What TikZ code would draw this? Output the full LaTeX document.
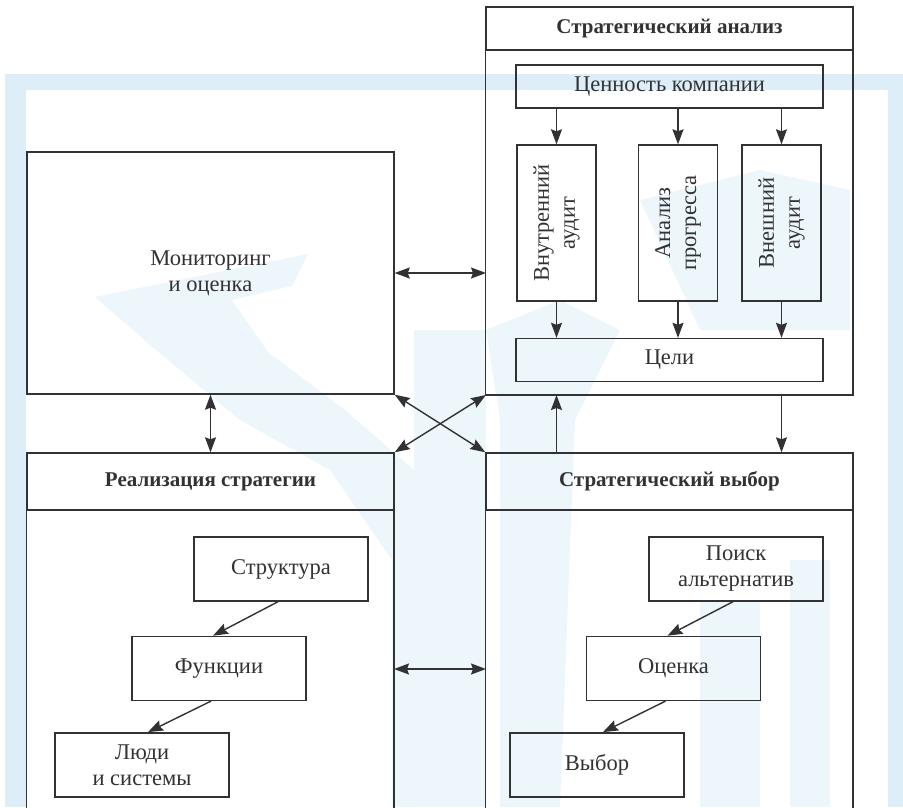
\documentclass[tikz,border=0pt]{standalone}
\usepackage{fontspec}
\setmainfont{Liberation Serif}
\usetikzlibrary{arrows.meta,positioning}

\definecolor{ink}{RGB}{50,50,52}
\definecolor{wmblue}{RGB}{221,238,248}

\tikzset{
  box/.style={draw=ink, line width=1.4pt, text=ink, align=center, inner sep=0pt,
    font=\fontsize{22.5}{26}\selectfont},
  ibox/.style={box, minimum width=174pt, minimum height=64pt},
  vbox/.style={box, rotate=90, minimum width=156pt, minimum height=79pt},
  hbox/.style={box, minimum width=307pt, minimum height=43pt},
  headbox/.style={box, minimum width=367pt, font=\bfseries\fontsize{21}{25}\selectfont},
  frame/.style={draw=ink, line width=1.4pt},
  arr/.style={draw=ink, line width=1.4pt, -{Stealth[length=15pt,width=11pt,inset=2pt]}},
  darr/.style={arr, {Stealth[length=15pt,width=11pt,inset=2pt]}-{Stealth[length=15pt,width=11pt,inset=2pt]}},
}

\begin{document}
\begin{tikzpicture}[x=1pt,y=-1pt]

\useasboundingbox (0,0) rectangle (903,807);
\clip (0,0) rectangle (903,807);

% watermark
\fill[wmblue] (5,74) rectangle (903,807);
\fill[white] (26,90) rectangle (888,807);
\begin{scope}[fill=wmblue, opacity=0.5]
  \fill (95,297) -- (308,254) -- (292,286) -- (232,300) -- (268,352) -- (345,410)
        -- (414,470) -- (414,807) -- (392,807) -- (392,560) -- (330,470)
        -- (240,420) -- (150,345) -- cycle;
  \fill (414,330) rectangle (486,807);
  \fill (486,330) -- (560,300) -- (620,330) -- (575,420) -- (560,807) -- (500,807)
        -- (500,420) -- cycle;
  \fill (700,600) rectangle (760,807);
  \fill (790,560) rectangle (830,807);
  \fill (640,200) -- (760,170) -- (850,190) -- (850,330) -- (700,330) -- cycle;
\end{scope}

% monitoring
\node[box, minimum width=367pt, minimum height=242pt] (mon) at (210.5,273)
  {Мониторинг\\и оценка};

% strategic analysis
\node[headbox, minimum height=43pt] (anahead) at (669.5,28.5) {Стратегический анализ};
\coordinate (anaSE) at (853,395);
\coordinate (anaSW) at (486,395);
\draw[frame] (anahead.south west) rectangle (anaSE);

\node[hbox] (value) at (669.5,86.5) {Ценность компании};
\node[vbox] (vb1) at (556.5,223) {Внутренний\\аудит};
\node[vbox] (vb2) at (678,223) {Анализ\\прогресса};
\node[vbox] (vb3) at (781.5,223) {Внешний\\аудит};
\node[hbox] (goal) at (669.5,360) {Цели};

\foreach \v in {vb1,vb2,vb3} {
  \draw[arr] (value.south -| \v) -- (\v.east);
  \draw[arr] (\v.west) -- (goal.north -| \v);
}

% strategy implementation
\node[headbox, minimum height=57pt] (realhead) at (210.5,481.5) {Реализация стратегии};
\draw[frame] (realhead.south west) rectangle (394,830);

\node[ibox] (struct) at (281,569) {Структура};
\node[ibox, below=34pt of struct, xshift=-62pt] (func) {Функции};
\node[ibox, below=31pt of func, xshift=-77pt] (people) {Люди\\и системы};
\draw[arr] ([xshift=-3pt]struct.south) -- ([xshift=-6pt]func.north);
\draw[arr] ([xshift=-8pt]func.south) -- ([xshift=6pt]people.north);

% strategic choice
\node[headbox, minimum height=57pt] (chohead) at (669.5,481.5) {Стратегический выбор};
\draw[frame] (chohead.south west) rectangle (853,830);

\node[ibox] (search) at (736,569) {Поиск\\альтернатив};
\node[ibox, below=34pt of search, xshift=-62.5pt] (rate) {Оценка};
\node[ibox, below=31pt of rate, xshift=-76.5pt] (pick) {Выбор};
\draw[arr] ([xshift=-3pt]search.south) -- ([xshift=-6pt]rate.north);
\draw[arr] ([xshift=-8pt]rate.south) -- ([xshift=6pt]pick.north);

% links between blocks
\draw[darr] (mon.east) -- (mon.east -| anaSW);
\draw[darr] (mon.south) -- (realhead.north);
\draw[darr] (mon.south east) -- (chohead.north west);
\draw[darr] (realhead.north east) -- (anaSW);
\draw[arr] (vb1 |- chohead.north) -- (vb1 |- anaSW);
\draw[arr] (vb3 |- anaSW) -- (vb3 |- chohead.north);
\draw[darr] (394,669) -- (486,669);

\end{tikzpicture}
\end{document}
